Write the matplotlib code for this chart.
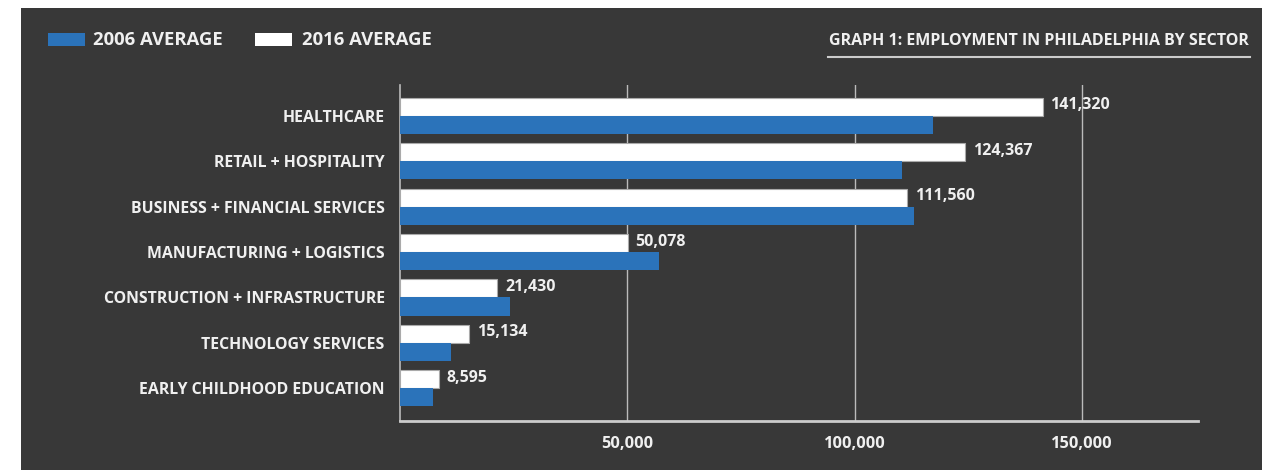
import matplotlib.pyplot as plt
from matplotlib.patches import Rectangle
import numpy as np

sectors = ["HEALTHCARE", "RETAIL + HOSPITALITY", "BUSINESS + FINANCIAL SERVICES",
           "MANUFACTURING + LOGISTICS", "CONSTRUCTION + INFRASTRUCTURE",
           "TECHNOLOGY SERVICES", "EARLY CHILDHOOD EDUCATION"]
avg_2016 = [141320, 124367, 111560, 50078, 21430, 15134, 8595]
avg_2006 = [117300, 110300, 113100, 56900, 24200, 11200, 7200]
x_ticks = [50000, 100000, 150000]

BG = "#383838"
BLUE = "#2b73ba"
TXT = "#f0f0f0"
FONT = ["Open Sans", "DejaVu Sans"]

fig = plt.figure(figsize=(12.62, 4.70), dpi=100, facecolor="white")
# dark panel, with a thin white margin at top and left
panel = Rectangle((21 / 1262, 0), 1 - 21 / 1262, 1 - 8 / 470,
                  transform=fig.transFigure, facecolor=BG,
                  edgecolor="none", zorder=-10)
fig.add_artist(panel)

ax = fig.add_axes([400 / 1262, 49 / 470, 798 / 1262, 336 / 470])
ax.set_zorder(5)
ax.set_facecolor(BG)

y = np.arange(len(sectors))
h = 0.4
ax.barh(y - h / 2, avg_2016, height=h, color="white", edgecolor="#aaaaaa",
        linewidth=0.8, zorder=3)
ax.barh(y + h / 2, avg_2006, height=h, color=BLUE, edgecolor="none", zorder=3)

for yi, v in zip(y, avg_2016):
    ax.text(v + 1700, yi - h / 2 - 0.03, f"{v:,}", color=TXT, fontsize=11.5,
            fontweight="bold", family=FONT, va="center", ha="left", zorder=4)

ax.set_xlim(0, 175500)
ax.set_ylim(6.72, -0.68)
ax.set_xticks(x_ticks)
ax.set_xticklabels([f"{t:,}" for t in x_ticks], color=TXT, fontsize=11.8,
                   fontweight="bold", family=FONT)
ax.set_yticks(y)
ax.set_yticklabels(sectors, color=TXT, fontsize=11.4, fontweight="bold", family=FONT)
ax.tick_params(axis="both", length=0)
ax.tick_params(axis="x", pad=11)
ax.tick_params(axis="y", pad=11)

ax.grid(axis="x", color="#bbbbbb", linewidth=1, zorder=1)
ax.set_axisbelow(True)
for s in ["top", "right"]:
    ax.spines[s].set_visible(False)
ax.spines["left"].set_color("#bbbbbb")
ax.spines["left"].set_linewidth(1.2)
ax.spines["bottom"].set_color("#cccccc")
ax.spines["bottom"].set_linewidth(2)

# legend at top left
fig.add_artist(Rectangle((48 / 1262, 1 - 46 / 470), 37 / 1262, 13 / 470,
                         transform=fig.transFigure, facecolor=BLUE,
                         edgecolor="none"))
fig.text(93 / 1262, 1 - 40 / 470, "2006 AVERAGE", color=TXT, fontsize=13.3,
         fontweight="bold", family=FONT, va="center")
fig.add_artist(Rectangle((255 / 1262, 1 - 46 / 470), 37 / 1262, 13 / 470,
                         transform=fig.transFigure, facecolor="white",
                         edgecolor="none"))
fig.text(302 / 1262, 1 - 40 / 470, "2016 AVERAGE", color=TXT, fontsize=13.3,
         fontweight="bold", family=FONT, va="center")

# title at top right with underline
fig.text(1249 / 1262, 1 - 41 / 470, "GRAPH 1: EMPLOYMENT IN PHILADELPHIA BY SECTOR",
         color=TXT, fontsize=11.5, fontweight="bold", family=FONT,
         va="center", ha="right")
fig.add_artist(plt.Line2D([828 / 1262, 1250 / 1262], [1 - 57 / 470, 1 - 57 / 470],
                          transform=fig.transFigure, color="#cccccc", linewidth=1.5))

fig.savefig("out.png", dpi=100, facecolor=fig.get_facecolor())
